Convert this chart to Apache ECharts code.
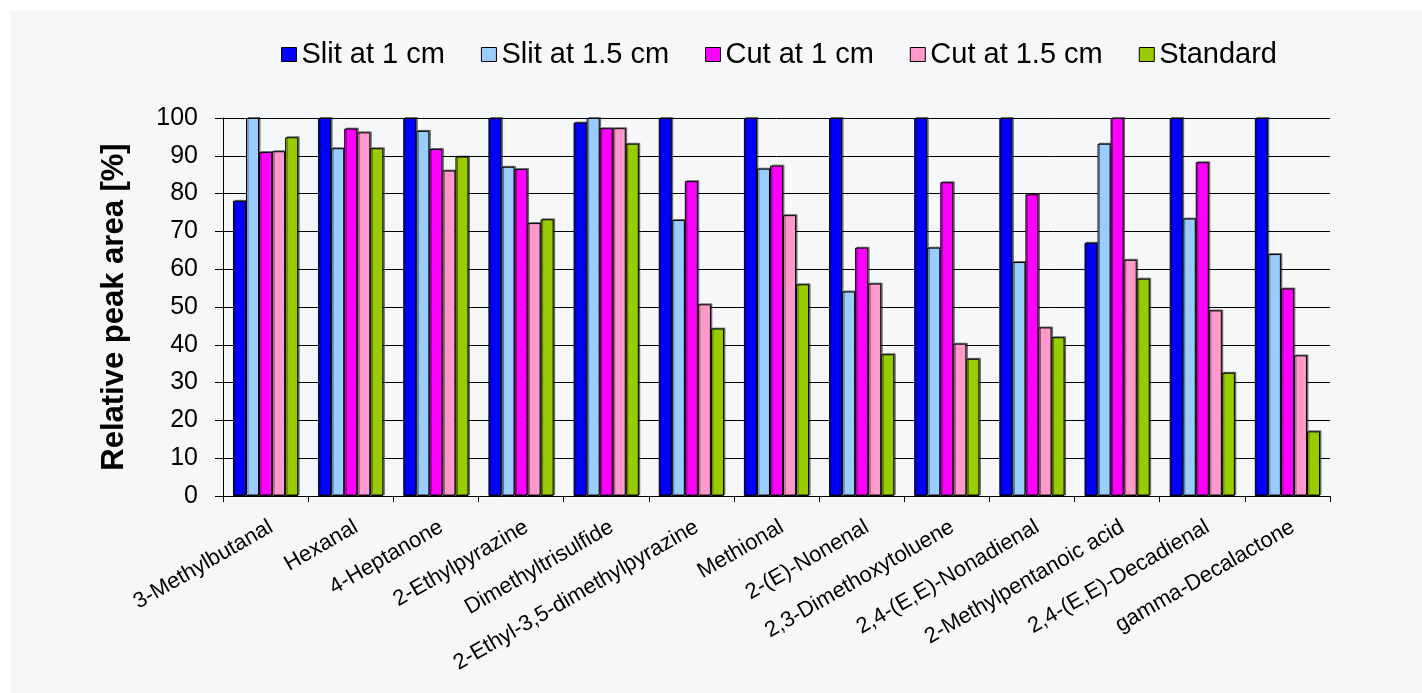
<!DOCTYPE html>
<html>
<head>
<meta charset="utf-8">
<script src="https://cdn.jsdelivr.net/npm/echarts@6/dist/echarts.min.js"></script>
<style>
  html, body { margin: 0; padding: 0; background: #ffffff; }
  #chart { width: 1422px; height: 693px; }
</style>
</head>
<body>
<div id="chart"></div>
<script>
const categories = ["3-Methylbutanal", "Hexanal", "4-Heptanone", "2-Ethylpyrazine", "Dimethyltrisulfide",
  "2-Ethyl-3,5-dimethylpyrazine", "Methional", "2-(E)-Nonenal", "2,3-Dimethoxytoluene",
  "2,4-(E,E)-Nonadienal", "2-Methylpentanoic acid", "2,4-(E,E)-Decadienal", "gamma-Decalactone"];
const seriesNames = ["Slit at 1 cm", "Slit at 1.5 cm", "Cut at 1 cm", "Cut at 1.5 cm", "Standard"];
const slit1 =   [78.1, 100, 100, 100, 98.8, 100, 100, 100, 100, 100, 67.0, 100, 100];
const slit15 =  [100, 92.0, 96.6, 87.1, 100, 73.0, 86.6, 54.1, 65.7, 61.9, 93.2, 73.4, 64.0];
const cut1 =    [91.0, 97.2, 91.8, 86.5, 97.3, 83.3, 87.4, 65.7, 83.0, 79.8, 100, 88.3, 54.9];
const cut15 =   [91.2, 96.2, 86.1, 72.2, 97.3, 50.7, 74.3, 56.2, 40.3, 44.6, 62.5, 49.1, 37.2];
const standard = [94.9, 92.0, 89.8, 73.2, 93.2, 44.3, 56.0, 37.5, 36.3, 42.0, 57.5, 32.6, 17.1];
const yTicks = [0, 10, 20, 30, 40, 50, 60, 70, 80, 90, 100];

const colors = ["#0000ff", "#99ccff", "#ff00ff", "#ff99cc", "#99cc00"];
const allData = [slit1, slit15, cut1, cut15, standard];
const FONT = "'Liberation Sans', Arial, sans-serif";

const chart = echarts.init(document.getElementById('chart'), null, { renderer: 'canvas' });

const series = seriesNames.map((name, i) => ({
  name: name,
  type: 'bar',
  data: allData[i],
  barGap: '0%',
  barCategoryGap: '23.4%',
  itemStyle: {
    color: colors[i],
    borderColor: '#000',
    borderWidth: 1,
    shadowColor: 'rgba(0,0,0,0.45)',
    shadowOffsetX: 1.5,
    shadowOffsetY: -1,
    shadowBlur: 0
  },
  emphasis: { disabled: true },
  animation: false
}));

chart.setOption({
  backgroundColor: '#ffffff',
  animation: false,
  graphic: [{
    type: 'rect',
    z: -100,
    silent: true,
    shape: { x: 10, y: 11, width: 1412, height: 682 },
    style: { fill: '#f6f7f9' }
  }],
  legend: {
    left: 276,
    top: 35,
    itemWidth: 15,
    itemHeight: 14,
    itemGap: 36,
    textStyle: { fontFamily: FONT, fontSize: 29, color: '#000' },
    itemStyle: { borderColor: '#000', borderWidth: 1, shadowColor: 'transparent', shadowBlur: 0, shadowOffsetX: 0, shadowOffsetY: 0 },
    icon: 'rect',
    selectedMode: false
  },
  grid: { left: 223, right: 92, top: 118, bottom: 197 },
  xAxis: {
    type: 'category',
    data: categories,
    boundaryGap: true,
    axisLine: { show: true, lineStyle: { color: '#000', width: 1 } },
    axisTick: { show: true, length: 6, lineStyle: { color: '#000' } },
    axisLabel: {
      rotate: 30,
      interval: 0,
      margin: 20,
      align: 'right',
      verticalAlign: 'top',
      fontFamily: FONT,
      fontSize: 22,
      color: '#000'
    },
    splitLine: { show: false }
  },
  yAxis: {
    type: 'value',
    min: yTicks[0],
    max: yTicks[yTicks.length - 1],
    interval: 10,
    name: 'Relative peak area [%]',
    nameLocation: 'middle',
    nameGap: 93,
    nameTextStyle: { fontFamily: FONT, fontSize: 31, fontWeight: 'bold', color: '#000' },
    axisLine: { show: true, lineStyle: { color: '#000', width: 1 } },
    axisTick: { show: true, inside: false, length: 8, lineStyle: { color: '#000' } },
    axisLabel: { margin: 25, fontFamily: FONT, fontSize: 25, color: '#000' },
    splitLine: { show: true, lineStyle: { color: '#000', width: 1 } }
  },
  series: series
});
</script>
</body>
</html>
